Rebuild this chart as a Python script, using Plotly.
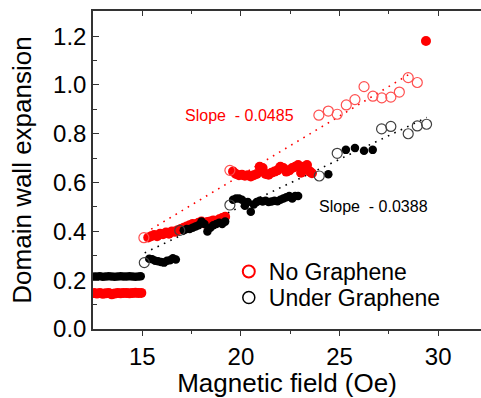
import plotly.graph_objects as go

# ---------------- data ----------------
# Red, "No Graphene" – filled points
red_fill_x = [12.55, 12.7, 12.85, 13.0, 13.15, 13.3, 13.45, 13.6, 13.75, 13.9, 14.05, 14.2, 14.35, 14.5, 14.65, 14.8, 14.95,
              15.3, 15.45, 15.6, 15.75, 15.9, 16.05, 16.2, 16.35, 16.5, 16.65, 16.8, 16.95, 17.1, 17.25, 17.4, 17.55, 17.7,
              17.85, 18.0, 18.15, 18.3, 18.45, 18.6, 18.75, 18.9, 19.05, 19.2,
              19.6, 19.75, 19.9, 20.05, 20.2, 20.35, 20.5, 20.65, 20.8, 20.95, 21.1, 21.25, 21.4, 21.55, 21.7, 21.85,
              22.0, 22.15, 22.3, 22.45, 22.6, 22.75, 22.9, 23.05, 23.2, 23.35, 23.5, 23.6,
              29.38]
red_fill_y = [0.147, 0.145, 0.148, 0.144, 0.146, 0.147, 0.142, 0.145, 0.147, 0.146, 0.148, 0.147, 0.146, 0.147, 0.149, 0.147, 0.148,
              0.375, 0.38, 0.385, 0.38, 0.39, 0.388, 0.395, 0.39, 0.4, 0.398, 0.405, 0.41, 0.415, 0.42, 0.425, 0.43, 0.428,
              0.435, 0.44, 0.432, 0.438, 0.44, 0.445, 0.438, 0.45, 0.455, 0.46,
              0.645, 0.635, 0.63, 0.632, 0.628, 0.63, 0.625, 0.63, 0.635, 0.665, 0.66, 0.635, 0.632, 0.64, 0.645, 0.65,
              0.665, 0.66, 0.645, 0.65, 0.66, 0.665, 0.672, 0.64, 0.665, 0.672, 0.645, 0.638,
              1.18]
# Red – open points
red_open_x = [15.08, 19.44, 23.95, 24.43, 24.88, 25.34, 25.78, 26.24, 26.69, 27.14, 27.6, 28.03, 28.48, 28.94]
red_open_y = [0.374, 0.65, 0.876, 0.893, 0.88, 0.918, 0.94, 0.993, 0.954, 0.947, 0.95, 0.971, 1.03, 1.01]

# Black, "Under Graphene" – filled points
blk_fill_x = [12.55, 12.7, 12.85, 13.0, 13.15, 13.3, 13.45, 13.6, 13.75, 13.9, 14.05, 14.2, 14.35, 14.5, 14.65, 14.8, 14.92,
              15.35, 15.5, 15.65, 15.8, 15.95, 16.1, 16.25, 16.4, 16.55, 16.7,
              17.1, 17.25, 17.4, 17.55, 17.7, 17.85, 18.0, 18.15, 18.3, 18.45, 18.6, 18.75, 18.9, 19.05, 19.2,
              19.6, 19.75, 19.9, 20.05, 20.2, 20.35, 20.5, 20.65, 20.8, 20.95, 21.1, 21.25, 21.4, 21.55, 21.7, 21.85,
              22.0, 22.15, 22.3, 22.45, 22.6, 22.75, 22.9,
              24.43, 25.32, 25.78, 26.24, 26.68]
blk_fill_y = [0.215, 0.215, 0.216, 0.214, 0.215, 0.216, 0.215, 0.214, 0.215, 0.216, 0.215, 0.215, 0.216, 0.215, 0.214, 0.215, 0.216,
              0.288, 0.286, 0.28, 0.278, 0.275, 0.272, 0.28, 0.282, 0.29, 0.285,
              0.405, 0.41, 0.41, 0.415, 0.42, 0.425, 0.44, 0.43, 0.4, 0.415, 0.425, 0.43, 0.435, 0.43, 0.44,
              0.53, 0.535, 0.535, 0.53, 0.505, 0.52, 0.48, 0.51, 0.52, 0.525, 0.522, 0.525, 0.52, 0.522, 0.525, 0.523,
              0.53, 0.535, 0.54, 0.545, 0.535, 0.545, 0.545,
              0.634, 0.734, 0.742, 0.73, 0.734]
# Black – open points
blk_open_x = [15.1, 16.9, 19.44, 23.97, 24.88, 27.13, 27.6, 28.48, 28.94, 29.41]
blk_open_y = [0.272, 0.404, 0.508, 0.627, 0.72, 0.82, 0.83, 0.80, 0.832, 0.839]

# linear fits (end points)
fit_red_x = [15.45, 28.7]
fit_red_y = [0.409, 1.052]
fit_blk_x = [15.12, 29.42]
fit_blk_y = [0.312, 0.867]

slope_labels = ["Slope\u00a0\u00a0- 0.0485", "Slope\u00a0\u00a0- 0.0388"]
legend_names = ["No Graphene", "Under Graphene"]

x_range = [12.5, 32.17]
y_range = [0.0, 1.303]
x_ticks = [15, 20, 25, 30]
y_ticks = [0.0, 0.2, 0.4, 0.6, 0.8, 1.0, 1.2]

RED = "#ff0000"
BLK = "#000000"
FONT = "Arial, 'Liberation Sans', sans-serif"
AXC = "#333333"

fig = go.Figure()

# fit lines
fig.add_trace(go.Scatter(x=fit_red_x, y=fit_red_y, mode="lines",
                         line=dict(color=RED, width=1.6, dash="1.6px,5.5px"), showlegend=False, hoverinfo="skip"))
fig.add_trace(go.Scatter(x=fit_blk_x, y=fit_blk_y, mode="lines",
                         line=dict(color=BLK, width=1.6, dash="1.6px,5.5px"), showlegend=False, hoverinfo="skip"))

# filled markers
fig.add_trace(go.Scatter(x=red_fill_x, y=red_fill_y, mode="markers",
                         marker=dict(color=RED, size=10, line=dict(width=0)), showlegend=False))
fig.add_trace(go.Scatter(x=blk_fill_x, y=blk_fill_y, mode="markers",
                         marker=dict(color=BLK, size=8.5, line=dict(width=0)), showlegend=False))
# open markers
fig.add_trace(go.Scatter(x=red_open_x, y=red_open_y, mode="markers",
                         marker=dict(color="rgba(255,255,255,0)", size=10, line=dict(color="#ff5050", width=1.2)),
                         showlegend=False))
fig.add_trace(go.Scatter(x=blk_open_x, y=blk_open_y, mode="markers",
                         marker=dict(color="rgba(255,255,255,0)", size=10, line=dict(color="#404040", width=1.2)),
                         showlegend=False))

# legend entries (each in its own legend box for exact row spacing)
fig.add_trace(go.Scatter(x=[None], y=[None], mode="markers", name=legend_names[0], legend="legend",
                         marker=dict(symbol="circle-open", color=RED, size=12, line=dict(width=2))))
fig.add_trace(go.Scatter(x=[None], y=[None], mode="markers", name=legend_names[1], legend="legend2",
                         marker=dict(symbol="circle-open", color=BLK, size=12, line=dict(width=1.5))))

# dummy trace for top axis
fig.add_trace(go.Scatter(x=[None], y=[None], xaxis="x2", showlegend=False, hoverinfo="skip"))

fig.add_annotation(x=17.05, y=0.873, text=slope_labels[0], showarrow=False, xanchor="left", yanchor="middle",
                   font=dict(family=FONT, size=16, color=RED))
fig.add_annotation(x=23.84, y=0.504, text=slope_labels[1], showarrow=False, xanchor="left", yanchor="middle",
                   font=dict(family=FONT, size=16, color=BLK))

legend_common = dict(xanchor="left", yanchor="top", bgcolor="rgba(0,0,0,0)",
                     font=dict(size=23, color="#000000"), itemsizing="trace")

fig.update_layout(
    width=481, height=398,
    margin=dict(l=93, r=0, t=11, b=69, pad=0, autoexpand=False),
    paper_bgcolor="white", plot_bgcolor="white",
    font=dict(family=FONT, color="#000000"),
    xaxis=dict(range=x_range, tickvals=x_ticks, ticks="outside", ticklen=5, tickwidth=1.3, tickcolor=AXC,
               showline=True, linecolor=AXC, linewidth=1.5, showgrid=False, zeroline=False, automargin=False,
               tickfont=dict(size=24), title=dict(text="Magnetic field (Oe)", font=dict(size=26), standoff=2),
               minor=dict(tickvals=[17.5, 22.5, 27.5], ticks="outside", ticklen=3, tickcolor=AXC)),
    xaxis2=dict(range=x_range, overlaying="x", side="top", tickvals=x_ticks, ticks="inside", ticklen=5,
                tickwidth=1.3, tickcolor=AXC, showline=True, linecolor=AXC, linewidth=1.5, showgrid=False,
                zeroline=False, showticklabels=False, automargin=False,
                minor=dict(tickvals=[17.5, 22.5, 27.5], ticks="inside", ticklen=3, tickcolor=AXC)),
    yaxis=dict(range=y_range, tickvals=y_ticks, ticktext=[f"{v:.1f}" for v in y_ticks], ticks="inside", ticklen=6,
               tickwidth=1.3, tickcolor=AXC, showline=True, linecolor=AXC, linewidth=1.5, showgrid=False,
               zeroline=False, tickfont=dict(size=24), automargin=False,
               title=dict(text="Domain wall expansion", font=dict(size=26), standoff=14),
               minor=dict(tickvals=[0.1, 0.3, 0.5, 0.7, 0.9, 1.1], ticks="inside", ticklen=4, tickcolor=AXC)),
    legend=dict(x=0.35, y=0.2484, **legend_common),
    legend2=dict(x=0.35, y=0.1667, **legend_common),
)

fig.write_html("out.html", config={"displayModeBar": False},
               post_script="document.body.style.margin='0';document.body.style.padding='0';")
